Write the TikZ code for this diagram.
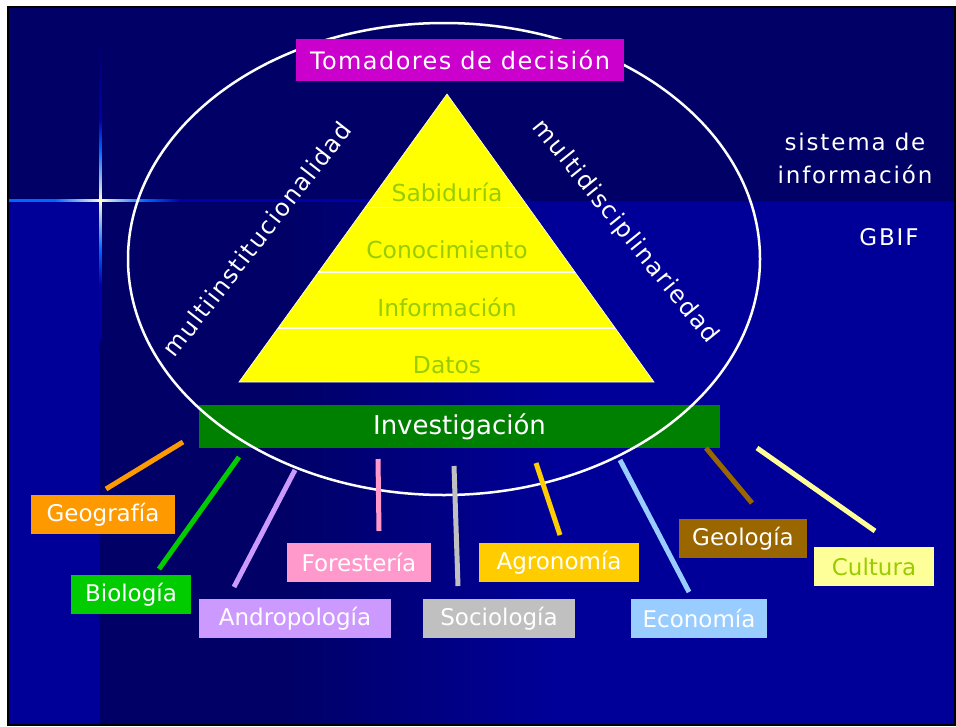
\documentclass[tikz,border=0pt]{standalone}
\usepackage{fontspec}
\setmainfont{DejaVu Sans}
\newfontfamily\spacedfont[LetterSpace=6]{DejaVu Sans}
\newfontfamily\widefont[LetterSpace=8]{DejaVu Sans}
\usetikzlibrary{shapes.geometric,calc}
\definecolor{bgdark}{HTML}{000066}
\definecolor{bgblue}{HTML}{000099}
\definecolor{raydark}{HTML}{0000AA}
\definecolor{raybright}{HTML}{0066FF}
\definecolor{raycore}{HTML}{FFFFCC}
\definecolor{triyellow}{HTML}{FFFF00}
\definecolor{tritxt}{HTML}{99CC00}
\definecolor{cmag}{HTML}{CC00CC}
\definecolor{cinv}{HTML}{008000}
\definecolor{cgeo}{HTML}{FF9900}
\definecolor{cbio}{HTML}{00CC00}
\definecolor{cand}{HTML}{CC99FF}
\definecolor{cfor}{HTML}{FF99CC}
\definecolor{csoc}{HTML}{C0C0C0}
\definecolor{cagr}{HTML}{FFCC00}
\definecolor{ceco}{HTML}{99CCFF}
\definecolor{cgeol}{HTML}{996600}
\definecolor{ccul}{HTML}{FFFF99}
\begin{document}
\begin{tikzpicture}[x=1pt,y=-1pt,
  lbl/.style={rectangle, inner sep=0pt, minimum height=39pt, text=white,
    font=\fontsize{23}{27}\selectfont},
  conn/.style={line width=5pt},
  tierline/.style={white, line width=1.3pt},
  tritext/.style={text=tritxt, font=\fontsize{23.4}{28}\selectfont},
  sidetext/.style={text=white, font=\spacedfont\fontsize{24}{28}\selectfont},
  righttext/.style={text=white, anchor=base, font=\widefont\fontsize{23}{27}\selectfont}]
\useasboundingbox (0,0) rectangle (956,726);
% background
\fill[white] (0,0) rectangle (956,726);
\fill[bgdark] (8,7) rectangle (955,201);
\fill[bgblue] (8,201) rectangle (100,725);
\fill[bgdark] (100,201) rectangle (281,725);
\shade[left color=bgdark, right color=bgblue] (280,201) rectangle (561,725);
\fill[bgblue] (560,201) rectangle (955,725);
% star rays
\fill[raybright] (9,199) rectangle (55,201.5);
\shade[left color=raybright, right color=raycore] (55,199) rectangle (100.5,201.5);
\shade[left color=raycore, right color=raybright] (100,199) rectangle (145,201.5);
\shade[left color=raybright, right color=raydark] (145,199) rectangle (180,201.5);
\fill[raydark] (180,199) rectangle (530,201.5);
\shade[top color=bgdark, bottom color=raydark] (99,40) rectangle (101.5,120);
\shade[top color=raydark, bottom color=raybright] (99,120) rectangle (101.5,150);
\shade[top color=raybright, bottom color=raycore] (99,150) rectangle (101.5,200.5);
\shade[top color=raycore, bottom color=raybright] (99,200) rectangle (101.5,250);
\shade[top color=raybright, bottom color=raydark] (99,250) rectangle (101.5,285);
\shade[top color=raydark, bottom color=bgblue] (99,285) rectangle (101.5,340);
\draw[black, line width=2pt] (8,7) rectangle (955,725);
% pyramid
\coordinate (apex) at (447,94);
\coordinate (bl) at (239,382);
\coordinate (br) at (654,382);
\fill[triyellow] (apex) -- (bl) -- (br) -- cycle;
\draw[white, line width=0.6pt] (apex) -- (bl) -- (br) -- cycle;
\coordinate (t1l) at (365.2,207.5); \coordinate (t1r) at (528.6,207.5);
\coordinate (t2l) at (318.4,272);   \coordinate (t2r) at (574.9,272);
\coordinate (t3l) at (278.0,328);   \coordinate (t3r) at (615.2,328);
\draw[tierline] (t1l) -- (t1r);
\draw[tierline] (t2l) -- (t2r);
\draw[tierline] (t3l) -- (t3r);
\node[tritext] (sab) at (447,192) {Sabiduría};
\node[tritext] (con) at (447,250) {Conocimiento};
\node[tritext] (inf) at (447,307) {Información};
\node[tritext] (dat) at (447,365) {Datos};
% side texts
\node[sidetext, rotate=52] (multinst) at (257,239) {multiinstitucionalidad};
\node[sidetext, rotate=-51] (multdis) at (625,232) {multidisciplinariedad};
% research box, oval, decision box
\node[rectangle, fill=cinv, inner sep=0pt, minimum width=521pt, minimum height=43pt,
  text=white, font=\fontsize{26}{30}\selectfont] (inv) at (459.5,426.5) {Investigación};
\node[ellipse, draw=white, line width=2.5pt, inner sep=0pt, outer sep=0pt,
  minimum width=632pt, minimum height=472pt] (oval) at (444,259) {};
\node[rectangle, fill=cmag, inner sep=0pt, minimum width=328pt, minimum height=42pt,
  text=white, font=\spacedfont\fontsize{24}{28}\selectfont] (tom) at (460,60) {Tomadores de decisión};
% right texts
\node[righttext] (sis1) at (855,150) {sistema de};
\node[righttext] (sis2) at (855,183) {información};
\node[righttext] (gbif) at (889,245) {GBIF};
% connectors
\coordinate (geoA) at (183,442); \coordinate (geoB) at (106,489);
\coordinate (bioA) at (239,457); \coordinate (bioB) at (159,569);
\coordinate (andA) at (295,470); \coordinate (andB) at (234,587);
\coordinate (forA) at (378,459); \coordinate (forB) at (379,531);
\coordinate (socA) at (454,466); \coordinate (socB) at (458,586);
\coordinate (agrA) at (536,463); \coordinate (agrB) at (560,535);
\coordinate (ecoA) at (620,460); \coordinate (ecoB) at (689,592);
\coordinate (geolA) at (706,448); \coordinate (geolB) at (752,503);
\coordinate (culA) at (757,448); \coordinate (culB) at (875,531);
\draw[conn, cgeo] (geoA) -- (geoB);
\draw[conn, cbio] (bioA) -- (bioB);
\draw[conn, cand] (andA) -- (andB);
\draw[conn, cfor] (forA) -- (forB);
\draw[conn, csoc] (socA) -- (socB);
\draw[conn, cagr] (agrA) -- (agrB);
\draw[conn, ceco] (ecoA) -- (ecoB);
\draw[conn, cgeol] (geolA) -- (geolB);
\draw[conn, ccul] (culA) -- (culB);
% labels
\node[lbl, fill=cgeo, minimum width=144pt] (geo) at (103,514.5) {Geografía};
\node[lbl, fill=cbio, minimum width=120pt] (bio) at (131,594.5) {Biología};
\node[lbl, fill=cand, minimum width=192pt] (and) at (295,618.5) {Andropología};
\node[lbl, fill=cfor, minimum width=144pt] (for) at (359,562.5) {Forestería};
\node[lbl, fill=csoc, minimum width=152pt] (soc) at (499,618.5) {Sociología};
\node[lbl, fill=cagr, minimum width=160pt] (agr) at (559,562.5) {Agronomía};
\node[lbl, fill=ceco, minimum width=136pt] (eco) at (699,618.5) {Economía};
\node[lbl, fill=cgeol, minimum width=128pt] (geol) at (743,538.5) {Geología};
\node[lbl, fill=ccul, minimum width=120pt, text=tritxt] (cul) at (874,566.5) {Cultura};
\end{tikzpicture}
\end{document}
